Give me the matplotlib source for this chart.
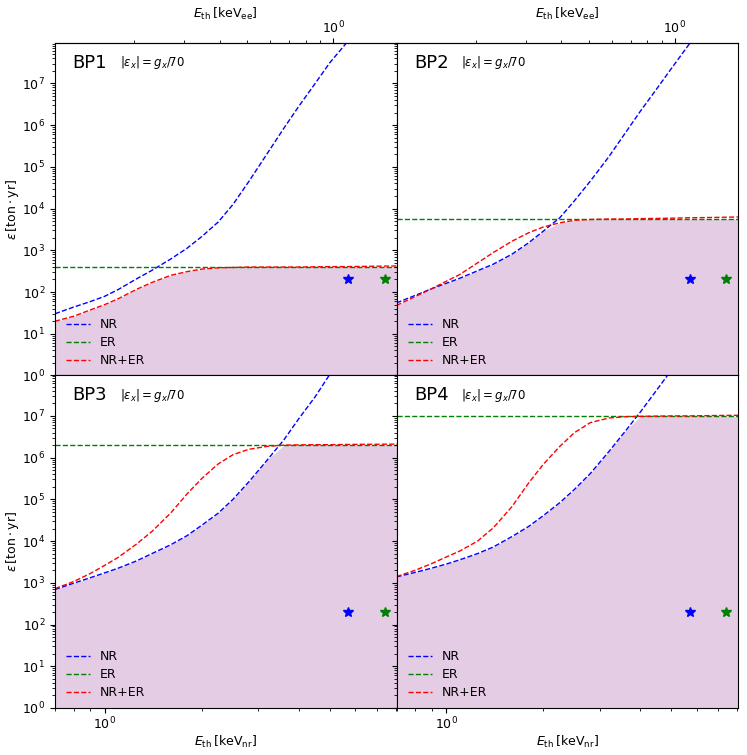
import numpy as np
import matplotlib.pyplot as plt
from matplotlib.ticker import NullFormatter

# threshold energy grid [keV_nr]
E_nr = [0.7, 0.8, 0.9, 1.0, 1.1, 1.25, 1.4, 1.6, 1.8, 2.0, 2.25, 2.5, 2.8,
        3.2, 3.6, 4.0, 4.5, 5.0, 5.6, 6.3, 7.0, 8.1]

# log10 of exposure [ton yr]
bp1_nr = [1.48, 1.64, 1.77, 1.90, 2.06, 2.31, 2.52, 2.79, 3.05, 3.33, 3.68, 4.10,
          4.65, 5.33, 5.93, 6.45, 7.0, 7.5, 7.95, 8.45, 8.9, 9.5]
bp1_nrer = [1.30, 1.42, 1.57, 1.70, 1.84, 2.06, 2.23, 2.40, 2.49, 2.55, 2.58, 2.59,
            2.60, 2.60, 2.60, 2.60, 2.605, 2.61, 2.61, 2.615, 2.62, 2.625]
bp2_nr = [1.74, 1.92, 2.08, 2.21, 2.33, 2.51, 2.67, 2.91, 3.18, 3.46, 3.78, 4.19,
          4.66, 5.25, 5.82, 6.33, 6.87, 7.36, 7.88, 8.4, 8.9, 9.5]
bp2_nrer = [1.68, 1.89, 2.08, 2.26, 2.42, 2.70, 2.95, 3.22, 3.42, 3.56, 3.66, 3.72,
            3.74, 3.75, 3.75, 3.76, 3.765, 3.77, 3.78, 3.785, 3.79, 3.80]
bp3_nr = [2.84, 2.99, 3.12, 3.24, 3.35, 3.52, 3.70, 3.91, 4.13, 4.38, 4.67, 5.00,
          5.42, 5.95, 6.43, 6.93, 7.46, 8.0, 8.5, 9.0, 9.5, 10.1]
bp3_nrer = [2.86, 3.03, 3.22, 3.42, 3.61, 3.92, 4.23, 4.67, 5.13, 5.50, 5.85, 6.07,
            6.20, 6.27, 6.30, 6.305, 6.31, 6.31, 6.315, 6.32, 6.32, 6.325]
bp4_nr = [3.14, 3.25, 3.35, 3.45, 3.55, 3.70, 3.86, 4.11, 4.35, 4.61, 4.92, 5.24,
          5.62, 6.15, 6.64, 7.09, 7.62, 8.1, 8.6, 9.1, 9.6, 10.2]
bp4_nrer = [3.15, 3.30, 3.46, 3.62, 3.76, 4.00, 4.32, 4.83, 5.39, 5.84, 6.27, 6.60,
            6.84, 6.95, 6.98, 6.99, 6.995, 7.0, 7.0, 7.005, 7.01, 7.015]

# ER-only exposure (flat)
er_vals = [400, 5600, 2.0e6, 9.8e6]

bp_names = ['BP1', 'BP2', 'BP3', 'BP4']
nr_list = [bp1_nr, bp2_nr, bp3_nr, bp4_nr]
nrer_list = [bp1_nrer, bp2_nrer, bp3_nrer, bp4_nrer]

# star markers
star_E = [5.7, 7.4]
star_eps = [200, 200]
star_colors = ['blue', 'green']


# quenching: keV_nr -> keV_ee (approximate)
def nr2ee(x):
    x = np.asarray(x, dtype=float)
    return 0.158 * np.clip(x, 1e-12, None) ** 1.13


def ee2nr(x):
    x = np.asarray(x, dtype=float)
    return (np.clip(x, 1e-12, None) / 0.158) ** (1 / 1.13)


fig = plt.figure(figsize=(7.47, 7.55), dpi=100)
axes = fig.subplots(2, 2, sharex=True, sharey=True)
fig.subplots_adjust(left=0.0736, right=0.988, bottom=0.0623, top=0.943,
                    wspace=0, hspace=0)

E = np.array(E_nr)
for i, ax in enumerate(axes.flat):
    nr = 10 ** np.array(nr_list[i])
    nrer = 10 ** np.array(nrer_list[i])
    er = np.full_like(E, er_vals[i])

    best = np.minimum(np.minimum(nr, er), nrer)
    ax.fill_between(E, 1e-3, best, color='purple', alpha=0.2, lw=0)

    ax.plot(E, nr, '--', color='blue', lw=1, label='NR')
    ax.plot(E, er, '--', color='green', lw=1, label='ER')
    ax.plot(E, nrer, '--', color='red', lw=1, label='NR+ER')

    for se, sy, sc in zip(star_E, star_eps, star_colors):
        ax.plot(se, sy, marker='*', color=sc, ms=7, ls='none')

    ax.set_xscale('log')
    ax.set_yscale('log')
    ax.set_xlim(0.7, 8.05)
    ax.set_ylim(1, 9.3e7)
    ax.xaxis.set_minor_formatter(NullFormatter())
    ax.tick_params(labelsize=9)
    ax.tick_params(axis='x', pad=2)

    ax.text(0.052, 0.94, bp_names[i], transform=ax.transAxes, fontsize=13,
            va='center')
    ax.text(0.19, 0.94, r'$|\varepsilon_x| = g_x/70$', transform=ax.transAxes,
            fontsize=8.5, va='center')

    ax.legend(loc='lower left', frameon=False, fontsize=9, labelspacing=0.4,
              handlelength=1.9, bbox_to_anchor=(0.0, -0.008))

    if i % 2 == 0:
        ax.set_ylabel(r'$\epsilon\,[\mathrm{ton\cdot yr}]$', fontsize=9,
                      labelpad=1)
    if i >= 2:
        ax.set_xlabel(r'$E_\mathrm{th}\,[\mathrm{keV_{nr}}]$', fontsize=9,
                      labelpad=1)
    else:
        sec = ax.secondary_xaxis('top', functions=(nr2ee, ee2nr))
        sec.set_xlabel(r'$E_\mathrm{th}\,[\mathrm{keV_{ee}}]$', fontsize=9,
                       labelpad=2)
        sec.xaxis.set_minor_formatter(NullFormatter())
        sec.tick_params(labelsize=9, pad=1)

fig.savefig('out.png', dpi=100)
